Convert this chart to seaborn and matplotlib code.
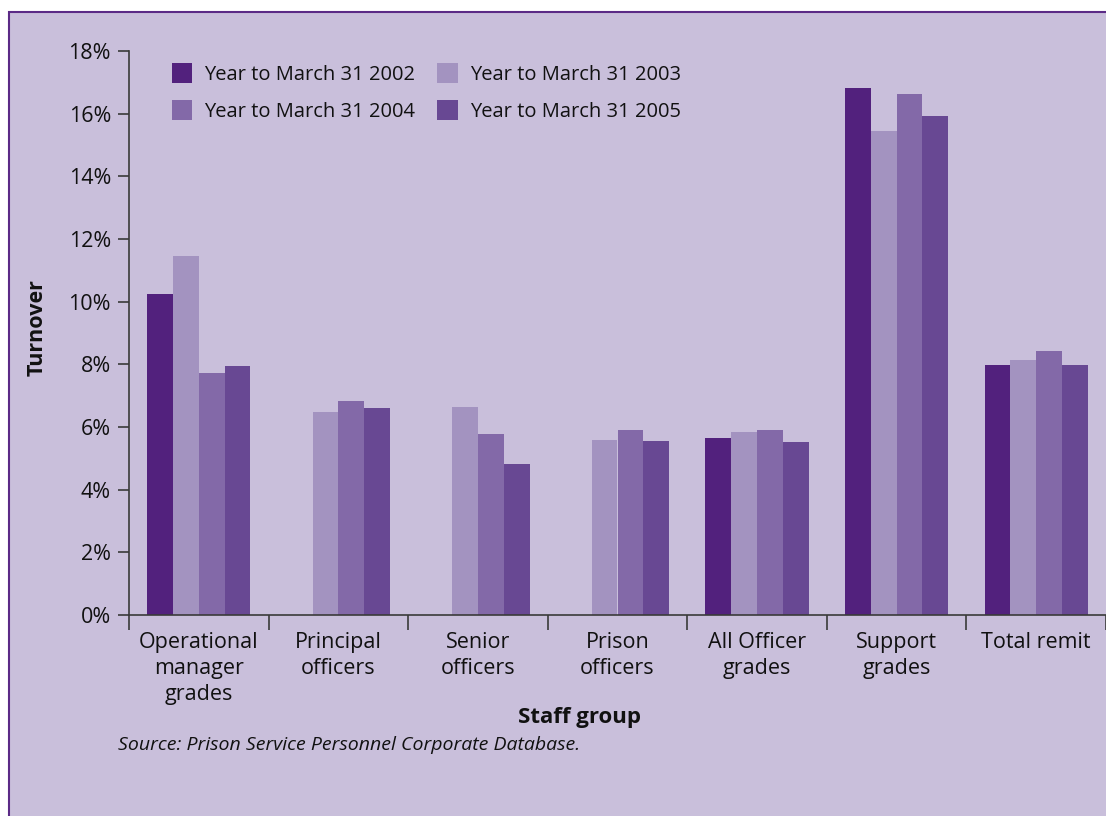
import numpy as np
import pandas as pd
import matplotlib
matplotlib.use("Agg")
import matplotlib.pyplot as plt
import seaborn as sns
from matplotlib.patches import Rectangle
from matplotlib.ticker import FuncFormatter

categories = ["Operational\nmanager\ngrades", "Principal\nofficers", "Senior\nofficers",
              "Prison\nofficers", "All Officer\ngrades", "Support\ngrades", "Total remit"]
series = ["Year to March 31 2002", "Year to March 31 2003",
          "Year to March 31 2004", "Year to March 31 2005"]
y2002 = [10.24, np.nan, np.nan, np.nan, 5.65, 16.82, 7.98]
y2003 = [11.46, 6.48, 6.64, 5.59, 5.84, 15.45, 8.15]
y2004 = [7.72, 6.83, 5.78, 5.90, 5.90, 16.63, 8.43]
y2005 = [7.95, 6.61, 4.82, 5.55, 5.52, 15.93, 7.98]
colors = ["#52217D", "#A393C0", "#8369A8", "#684893"]
yticks = [0, 2, 4, 6, 8, 10, 12, 14, 16, 18]

rows = []
for s, vals in zip(series, [y2002, y2003, y2004, y2005]):
    for c, v in zip(categories, vals):
        rows.append({"cat": c, "series": s, "value": v})
df = pd.DataFrame(rows)

sns.set_theme(style="ticks")
plt.rcParams["font.family"] = ["Open Sans", "DejaVu Sans"]
plt.rcParams["text.color"] = "#111111"

bg = "#C9BFDB"
fig = plt.figure(figsize=(11.06, 8.16), dpi=100, facecolor="white")
fig.patches.append(Rectangle((9 / 1106, -0.01), 1.05, 1 - 12 / 816 + 0.01,
                             transform=fig.transFigure, facecolor=bg,
                             edgecolor="#5B2A86", linewidth=1.5, zorder=-5))
ax = fig.add_axes([129 / 1106, 1 - 615 / 816, 1 - 129 / 1106, (615 - 51) / 816])
ax.set_facecolor("none")

sns.barplot(data=df, x="cat", y="value", hue="series", order=categories,
            hue_order=series, palette=colors, width=0.74, saturation=1,
            ax=ax, errorbar=None, linewidth=0)

ax.set_ylim(0, 18)
ax.set_xlim(-0.5, 6.5)
ax.set_yticks(yticks)
ax.yaxis.set_major_formatter(FuncFormatter(lambda v, p: f"{v:.0f}%"))
for s in ["top", "right"]:
    ax.spines[s].set_visible(False)
for s in ["left", "bottom"]:
    ax.spines[s].set_color("#3a3a3a")
    ax.spines[s].set_linewidth(1.2)

ax.set_xticks(np.arange(-0.5, 7, 1.0), minor=False, labels=[""] * 8)
ax.set_xticks(np.arange(7), labels=categories, minor=True)
ax.tick_params(axis="x", which="major", length=11, width=1.2, color="#3a3a3a", direction="out")
ax.tick_params(axis="x", which="minor", length=0, labelsize=15.5, pad=12, labelcolor="#111111")
for t in ax.get_xticklabels(minor=True):
    t.set_linespacing(1.32)
ax.tick_params(axis="y", length=8, width=1.2, color="#3a3a3a", labelsize=15.5, labelcolor="#111111", pad=5)

ax.set_xlabel("Staff group", fontsize=16, fontweight="bold", color="#111111")
ax.xaxis.set_label_coords((580 - 129) / 977, (615 - 718) / 564)
ax.set_ylabel("Turnover", fontsize=15.5, fontweight="bold", color="#111111")
ax.yaxis.set_label_coords((37 - 129) / 977, (615 - 328) / 564)
ax.xaxis.label.set_va("center")
ax.yaxis.label.set_va("center")

handles, labels = ax.get_legend_handles_labels()
order = [0, 2, 1, 3]
leg = ax.legend([handles[i] for i in order], [labels[i] for i in order], ncol=2,
                frameon=False, loc="upper left",
                bbox_to_anchor=((172 - 129) / 977, (615 - 63) / 564),
                borderpad=0, borderaxespad=0,
                fontsize=14.5, handlelength=1.0, handleheight=1.15, handletextpad=0.6,
                columnspacing=1.1, labelspacing=0.75)
for t in leg.get_texts():
    t.set_color("#111111")

fig.text(118 / 1106, 1 - 745 / 816, "Source: Prison Service Personnel Corporate Database.",
         fontsize=14, style="italic", color="#111111", va="center")

fig.savefig("out.png", dpi=100, facecolor="white")
